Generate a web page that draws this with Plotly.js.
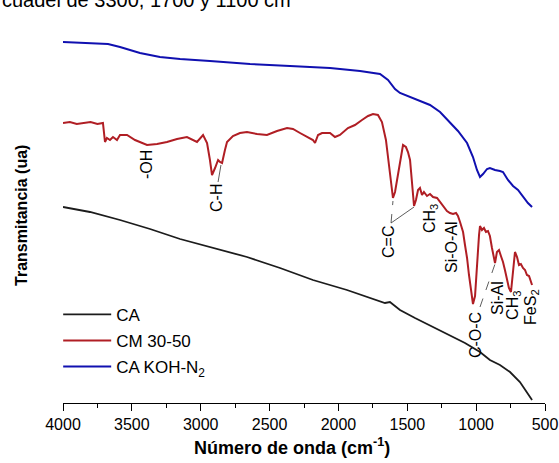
<!DOCTYPE html>
<html><head><meta charset="utf-8">
<script src="https://cdn.plot.ly/plotly-3.0.1.min.js"></script>
<style>html,body{margin:0;padding:0;background:#fff}#chart{width:559px;height:463px}</style>
</head><body><div id="chart"></div>
<script>
// Wavenumbers (cm-1) and transmittance (arbitrary units, offset spectra)
const caWn = [4000,3804,3586,3368,3150,2911,2664,2424,2185,1938,1771,1662,1626,1589,1553,1444,1313,1190,1081,972,900,827,754,682,631,594];
const caT  = [196,191,183,174,164,155,146,135,123,113,105,100,101,97,93,85,76,68,60,51,43,38,31,21,11,3];

const cmWn = [4000,3950,3900,3850,3800,3750,3710,3695,3681,3659,3637,3608,3586,3535,3477,3390,3317,3245,3172,3100,3056,3027,2983,2954,2933,2918,2896,2874,2860,2845,2824,2809,2766,2715,2664,2591,2519,2446,2373,2330,2279,2228,2185,2170,2148,2119,2061,2025,1989,1931,1880,1829,1785,1749,1713,1684,1655,1633,1618,1604,1589,1567,1546,1531,1510,1495,1480,1466,1451,1437,1422,1408,1393,1379,1357,1335,1313,1284,1262,1241,1212,1190,1168,1146,1132,1117,1095,1081,1066,1052,1037,1023,1008,994,979,972,958,943,929,914,900,885,871,863,849,834,820,805,791,776,762,747,733,718,703,689,675,660,645,631,616,602,594];
const cmT  = [280,281,279,280,281,279,280,261,265,263,266,263,268,268,263,258,259,261,264,266,263,261,268,260,243,228,235,243,241,240,253,261,267,270,271,269,268,272,275,274,270,266,263,260,268,270,270,266,268,275,278,283,287,289,288,281,263,238,218,205,211,228,248,258,256,251,243,218,197,203,213,215,208,211,207,209,206,205,201,197,192,190,189,190,187,181,171,158,145,128,111,99,107,143,168,177,173,175,171,172,167,155,143,140,151,153,147,141,133,125,115,111,133,151,146,138,139,135,133,128,127,122,118];

const kohWn = [4000,3804,3673,3586,3441,3296,3150,2933,2642,2352,2061,1843,1698,1640,1589,1553,1480,1408,1335,1262,1190,1132,1066,1023,994,972,950,921,900,863,827,805,769,732,696,660,624,594];
const kohT  = [361,360,359,356,350,346,344,342,339,337,335,332,329,323,314,310,306,302,298,291,281,272,260,246,233,226,229,234,235,233,232,231,223,217,213,206,200,196];

const seriesNames = ['CA','CM 30-50','CA KOH-N<sub>2</sub>'];
const seriesColors = ['#1c1c1c','#b01e24','#1010b0'];

// Band labels: text, wavenumber, transmittance position
const bandText = ['-OH','C-H','C=C','CH<sub>3</sub>','Si-O-Al','C-O-C','Si-Al','CH<sub>3</sub>','FeS<sub>2</sub>'];
const bandWn   = [3397,2889,1640,1335,1183,1008,849,733,602];
const bandT    = [238,205,161,184,156,68,105,98,96];

// Leader lines: [wn0, t0, wn1, t1, dashed]
const leaders = [
  [2874,221,2853,238,false],
  [1618,180,1604,202,true],
  [1618,180,1451,196,false],
  [972,96,863,139,true]
];

const font = 'Arial, "Liberation Sans", sans-serif';
const data = [
  {x: caWn, y: caT, name: seriesNames[0], line:{color:seriesColors[0], width:1.8}, legendgroup:'a'},
  {x: cmWn, y: cmT, name: seriesNames[1], line:{color:seriesColors[1], width:2}, legendgroup:'b'},
  {x: kohWn, y: kohT, name: seriesNames[2], line:{color:seriesColors[2], width:2}, legendgroup:'c'}
].map(t => Object.assign({type:'scatter', mode:'lines', hoverinfo:'skip'}, t));

const annotations = bandText.map((t,i) => ({
  x: bandWn[i], y: bandT[i], xref:'x', yref:'y', text:t, showarrow:false,
  textangle:-90, font:{family:font, size:16, color:'#000'}
}));
annotations.push({xref:'paper', yref:'paper', x:-0.131, y:0.98, xanchor:'left', yanchor:'bottom',
  text:'cuadel de 3300, 1700 y 1100 cm<sup>-1</sup>', showarrow:false, font:{family:font, size:20, color:'#000'}});
annotations.push({xref:'paper', yref:'paper', x:-0.085, y:0.47, xanchor:'center', yanchor:'middle',
  text:'<b>Transmitancia (ua)</b>', textangle:-90, showarrow:false, font:{family:font, size:16, color:'#000'}});
annotations.push({xref:'paper', yref:'paper', x:0.475, y:-0.11, xanchor:'center', yanchor:'middle',
  text:'<b>Número de onda (cm<sup>-1</sup>)</b>', showarrow:false, font:{family:font, size:18, color:'#000'}});

const shapes = leaders.map(l => ({type:'line', xref:'x', yref:'y', x0:l[0], y0:l[1], x1:l[2], y1:l[3],
  line:{color:'#333', width:0.8, dash: l[4] ? 'dash' : 'solid'}}));

const layout = {
  width:559, height:463,
  margin:{l:63, r:14, t:5, b:60},
  paper_bgcolor:'#fff', plot_bgcolor:'#fff',
  showlegend:true,
  legend:{x:-0.01, y:0.267, xanchor:'left', yanchor:'top', font:{family:font, size:17, color:'#000'},
    bgcolor:'rgba(0,0,0,0)', tracegroupgap:1, itemwidth:48},
  xaxis:{range:[4000,500], tickmode:'linear', tick0:500, dtick:500, ticks:'outside', ticklen:7, tickwidth:1,
    tickcolor:'#000', showline:true, linecolor:'#000', linewidth:1, showgrid:false, zeroline:false,
    tickfont:{family:font, size:16, color:'#000'},
    minor:{dtick:250, tick0:500, ticks:'outside', ticklen:4, tickcolor:'#000', showgrid:false}},
  yaxis:{range:[0,398], visible:false, showgrid:false, zeroline:false},
  annotations: annotations,
  shapes: shapes,
  font:{family:font}
};
Plotly.newPlot('chart', data, layout, {displayModeBar:false, staticPlot:true});
</script></body></html>
